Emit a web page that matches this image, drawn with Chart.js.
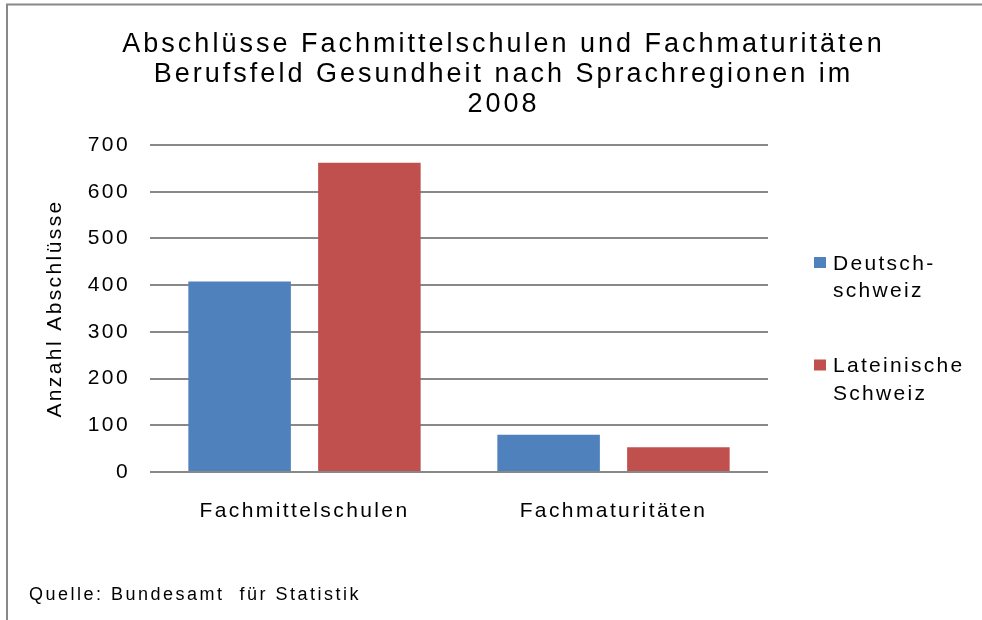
<!DOCTYPE html>
<html><head><meta charset="utf-8">
<script src="https://cdn.jsdelivr.net/npm/chart.js@4/dist/chart.umd.min.js"></script>
<style>html,body{margin:0;padding:0;background:#fff;}canvas{display:block;}</style>
</head><body>
<canvas id="c" width="982" height="620"></canvas>
<script>
const titleLines = ['Abschlüsse Fachmittelschulen und Fachmaturitäten', 'Berufsfeld Gesundheit nach Sprachregionen im', '2008'];
const categories = ['Fachmittelschulen', 'Fachmaturitäten'];
const seriesNames = ['Deutschschweiz', 'Lateinische Schweiz'];
const legendLines = [['Deutsch-', 'schweiz'], ['Lateinische', 'Schweiz']];
const deutschschweiz = [408, 80];
const lateinischeSchweiz = [662, 53];
const yMin = 0, yMax = 700, yStep = 100;
const yAxisTitle = 'Anzahl Abschlüsse';
const sourceNote = 'Quelle: Bundesamt  für Statistik';
const seriesColors = ['#4F81BD', '#C0504D'];

const FONT = '"Liberation Sans", Arial, sans-serif';
const BASE_LS = '2.4px';

const spacingPlugin = {
  id: 'spacing',
  beforeInit(c) { c.ctx.letterSpacing = BASE_LS; },
  beforeUpdate(c) { c.ctx.letterSpacing = BASE_LS; },
  beforeLayout(c) { c.ctx.letterSpacing = BASE_LS; },
  beforeDraw(c) { c.ctx.letterSpacing = BASE_LS; }
};

const decorPlugin = {
  id: 'decor',
  afterDraw(c) {
    const ctx = c.ctx;
    ctx.save();
    // frame
    ctx.strokeStyle = '#888888';
    ctx.lineWidth = 2;
    ctx.beginPath();
    ctx.moveTo(7, 620); ctx.lineTo(7, 4.5); ctx.lineTo(982, 4.5);
    ctx.stroke();
    ctx.fillStyle = '#000';
    ctx.textBaseline = 'alphabetic';
    // title
    ctx.font = '27px ' + FONT;
    ctx.letterSpacing = '3px';
    ctx.textAlign = 'center';
    titleLines.forEach((t, i) => ctx.fillText(t, 503.5, 52 + i * 30));
    // legend
    ctx.textAlign = 'left';
    ctx.font = '21px ' + FONT;
    ctx.letterSpacing = '2.3px';
    c.data.datasets.forEach((ds, i) => {
      const base = 269.5 + i * 102.5;
      ctx.fillStyle = ds.backgroundColor;
      ctx.fillRect(814, base - 12.5, 12, 11);
      ctx.fillStyle = '#000';
      legendLines[i].forEach((ln, j) => ctx.fillText(ln, 833, base + j * 27.7));
    });
    // source
    ctx.font = '18px ' + FONT;
    ctx.letterSpacing = '2.5px';
    ctx.fillText(sourceNote, 29, 600);
    ctx.restore();
  }
};

new Chart(document.getElementById('c'), {
  type: 'bar',
  data: {
    labels: categories,
    datasets: [
      { label: seriesNames[0], data: deutschschweiz, backgroundColor: seriesColors[0] },
      { label: seriesNames[1], data: lateinischeSchweiz, backgroundColor: seriesColors[1] }
    ]
  },
  options: {
    responsive: false,
    animation: false,
    devicePixelRatio: 1,
    layout: { padding: { left: 0, top: 145, right: 214, bottom: 0 } },
    datasets: { bar: { categoryPercentage: 0.84, barPercentage: 0.79 } },
    plugins: { legend: { display: false }, title: { display: false }, tooltip: { enabled: false } },
    scales: {
      x: {
        grid: { display: false, drawTicks: false },
        border: { display: false },
        ticks: { color: '#000', font: { family: FONT, size: 21 }, padding: 27 },
        afterFit(s) { s.height = 148; }
      },
      y: {
        min: yMin, max: yMax,
        grid: { color: '#888888', lineWidth: 2, drawTicks: false },
        border: { display: false },
        ticks: { stepSize: yStep, color: '#000', font: { family: FONT, size: 21 }, padding: 20 },
        title: { display: true, text: yAxisTitle, color: '#000', font: { family: FONT, size: 21 }, padding: { top: 43, bottom: 0 } },
        afterFit(s) { s.width = 150; }
      }
    }
  },
  plugins: [spacingPlugin, decorPlugin]
});
</script>
</body></html>
